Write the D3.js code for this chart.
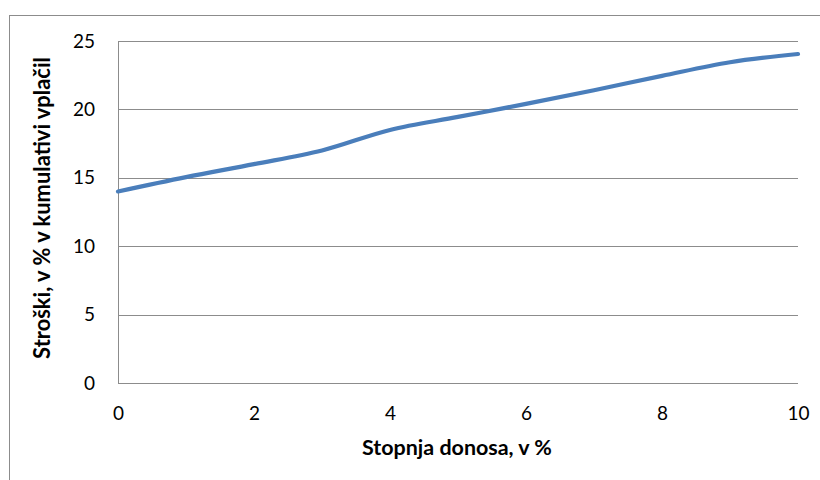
<!DOCTYPE html>
<html>
<head>
<meta charset="utf-8">
<script src="https://cdn.jsdelivr.net/npm/d3@7"></script>
<style>
  html, body { margin: 0; padding: 0; background: #fff; }
  svg { display: block; }
  text { font-family: Lato, "Open Sans", sans-serif; fill: #000; }
</style>
</head>
<body>
<svg id="chart" width="820" height="480"></svg>
<script>
// Stopnja donosa (%) and costs as % of cumulative contributions
const returnRates = [0, 1, 2, 3, 4, 5, 6, 7, 8, 9, 10];
const costs = [14, 15.05, 16, 17, 18.5, 19.45, 20.4, 21.4, 22.45, 23.45, 24.05];
const xTicks = [0, 2, 4, 6, 8, 10];
const yTicks = [0, 5, 10, 15, 20, 25];
const xTitle = "Stopnja donosa, v %";
const yTitle = "Stroški, v % v kumulativi vplačil";

const svg = d3.select("#chart");

// outer chart frame
svg.append("rect")
  .attr("x", 9.5).attr("y", 15.5)
  .attr("width", 830).attr("height", 480)
  .attr("fill", "none").attr("stroke", "#8c8c8c").attr("stroke-width", 1);

const plot = { left: 118, right: 798, top: 41, bottom: 383 };

const x = d3.scaleLinear().domain([0, 10]).range([plot.left, plot.right]);
const y = d3.scaleLinear().domain([0, 25]).range([plot.bottom, plot.top]);

// horizontal gridlines
svg.append("g")
  .selectAll("line")
  .data(yTicks.filter(d => d > 0))
  .join("line")
  .attr("x1", plot.left).attr("x2", plot.right)
  .attr("y1", d => Math.round(y(d)) + 0.5).attr("y2", d => Math.round(y(d)) + 0.5)
  .attr("stroke", "#8c8c8c").attr("stroke-width", 1);

// y axis (labels only, line drawn separately)
const yAxis = svg.append("g")
  .attr("transform", `translate(${plot.left},0)`)
  .call(d3.axisLeft(y).tickValues(yTicks).tickSize(0).tickPadding(23));
yAxis.select(".domain").remove();
yAxis.selectAll("text").attr("font-size", 19).attr("font-family", "Lato, sans-serif");

// x axis
const xAxis = svg.append("g")
  .attr("transform", `translate(0,${plot.bottom})`)
  .call(d3.axisBottom(x).tickValues(xTicks).tickSize(0).tickPadding(24));
xAxis.select(".domain").remove();
xAxis.selectAll("text").attr("font-size", 19).attr("font-family", "Lato, sans-serif");

// axis lines
svg.append("line")
  .attr("x1", plot.left + 0.5).attr("x2", plot.left + 0.5)
  .attr("y1", plot.top).attr("y2", plot.bottom + 0.5)
  .attr("stroke", "#8c8c8c");
svg.append("line")
  .attr("x1", plot.left).attr("x2", plot.right)
  .attr("y1", plot.bottom + 0.5).attr("y2", plot.bottom + 0.5)
  .attr("stroke", "#8c8c8c");

// cost curve
const line = d3.line()
  .x((d, i) => x(returnRates[i]))
  .y(d => y(d))
  .curve(d3.curveCatmullRom.alpha(0.5));
svg.append("path")
  .datum(costs)
  .attr("d", line)
  .attr("fill", "none")
  .attr("stroke", "#4a7ebb")
  .attr("stroke-width", 4.2)
  .attr("stroke-linecap", "round");

// scale a title's font so it spans the wanted width
function fitText(sel, width) {
  const base = +sel.attr("font-size");
  const len = sel.node().getComputedTextLength();
  if (len > 0) sel.attr("font-size", base * width / len);
}

// axis titles
const xt = svg.append("text")
  .attr("x", 457).attr("y", 455)
  .attr("text-anchor", "middle")
  .attr("font-size", 20).attr("font-weight", "bold")
  .text(xTitle);
fitText(xt, 190);

const yt = svg.append("text")
  .attr("transform", `translate(50,208) rotate(-90)`)
  .attr("text-anchor", "middle")
  .attr("font-size", 17).attr("font-weight", "bold")
  .text(yTitle);
fitText(yt, 302);
</script>
</body>
</html>
